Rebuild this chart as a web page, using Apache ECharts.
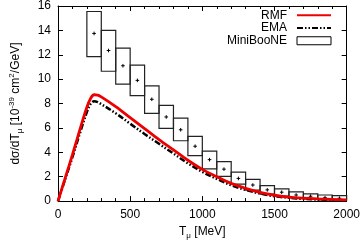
<!DOCTYPE html>
<html><head><meta charset="utf-8">
<script src="https://cdn.jsdelivr.net/npm/echarts@6/dist/echarts.min.js"></script>
<style>html,body{margin:0;padding:0;background:#fff}#c{width:363px;height:245px}</style>
</head><body><div id="c"></div>
<script>
// T_mu grid (MeV) for theory curves
var tGrid = [0,50,100,150,200,225,250,275,300,400,500,600,700,800,900,1000,1100,1200,1300,1400,1500,1600,1700,1800,1900,2000];
var rmfVals = [0,1.9,3.8,5.8,7.7,8.4,8.72,8.7,8.55,7.75,6.85,5.95,5.05,4.2,3.35,2.6,2.0,1.45,1.05,0.72,0.48,0.33,0.24,0.18,0.14,0.1];
var emaVals = [0,1.8,3.6,5.5,7.3,7.95,8.18,8.12,7.95,7.2,6.35,5.5,4.7,3.9,3.1,2.4,1.82,1.3,0.92,0.62,0.4,0.27,0.18,0.13,0.1,0.07];
// MiniBooNE bins
var binLo = [200,300,400,500,600,700,800,900,1000,1100,1200,1300,1400,1500,1600,1700,1800,1900];
var binHi = [300,400,500,600,700,800,900,1000,1100,1200,1300,1400,1500,1600,1700,1800,1900,2000];
var mbCenter = [13.75,12.35,11.1,9.9,8.35,6.9,5.85,4.5,3.4,2.62,1.86,1.32,0.92,0.73,0.5,0.4,0.28,0.24];
var mbLow =    [11.85,10.65,9.6,8.65,7.2,5.97,4.95,3.73,2.65,2.03,1.4,0.9,0.57,0.42,0.28,0.18,0.1,0.07];
var mbHigh =   [15.55,14.0,12.55,11.15,9.45,7.85,6.8,5.3,4.1,3.24,2.38,1.78,1.27,1.0,0.75,0.6,0.5,0.45];
var xTicks = [0,500,1000,1500,2000];
var yTicks = [0,2,4,6,8,10,12,14,16];

var FONT = 'Liberation Sans, Arial, sans-serif';
function pairs(xs, ys){ return xs.map(function(x,i){return [x, ys[i]];}); }
var boxData = binLo.map(function(l,i){ return [l, binHi[i], mbLow[i], mbHigh[i], mbCenter[i]]; });

var chart = echarts.init(document.getElementById('c'));
var axCommon = {
  type:'value',
  axisLine:{show:true,onZero:false,lineStyle:{color:'#000',width:1}},
  splitLine:{show:false}
};
var hidden = {color:'transparent',borderColor:'transparent',borderWidth:0};
chart.setOption({
  animation:false,
  textStyle:{fontFamily:FONT},
  grid:{left:54,right:15,top:6,bottom:42,containLabel:false},
  legend:{
    orient:'vertical', right:31, top:9, align:'right',
    itemWidth:34, itemHeight:8, itemGap:0, padding:0,
    textStyle:{fontSize:12,color:'#000',fontFamily:FONT,lineHeight:12.7,padding:[0,5,0,0]},
    data:[
      {name:'RMF', itemStyle:hidden},
      {name:'EMA', itemStyle:hidden},
      {name:'MiniBooNE', icon:'rect', itemStyle:{color:'#fff',borderColor:'#000',borderWidth:1}}
    ]
  },
  xAxis:[
    Object.assign({}, axCommon, {
      min:0,max:2000,interval:500,position:'bottom',
      axisTick:{show:true,inside:true,length:5,lineStyle:{color:'#000'}},
      minorTick:{show:true,splitNumber:5,length:3,lineStyle:{color:'#000'}},
      axisLabel:{color:'#000',fontSize:12,margin:8,fontFamily:FONT,formatter:function(v){return String(v);}},
      name:'{a|T}{s|μ}{a| [MeV]}', nameLocation:'middle', nameGap:22,
      nameTextStyle:{rich:{
        a:{fontSize:12,color:'#000',fontFamily:FONT,lineHeight:16},
        s:{fontSize:8,color:'#000',fontFamily:FONT,verticalAlign:'bottom',lineHeight:12,padding:[6,0,0,0]}
      }}
    }),
    Object.assign({}, axCommon, {
      min:0,max:2000,interval:500,position:'top',
      axisTick:{show:true,inside:true,length:5,lineStyle:{color:'#000'}},
      minorTick:{show:true,splitNumber:5,length:3,lineStyle:{color:'#000'}},
      axisLabel:{show:false}
    })
  ],
  yAxis:[
    Object.assign({}, axCommon, {
      min:0,max:16,interval:2,position:'left',
      axisTick:{show:true,inside:true,length:5,lineStyle:{color:'#000'}},
      axisLabel:{color:'#000',fontSize:12,margin:7,fontFamily:FONT},
      name:'{a|dσ/dT}{s|μ}{a| [10}{p|-39}{a| cm}{p|2}{a|/GeV]}', nameLocation:'middle', nameGap:34, nameRotate:90,
      nameTextStyle:{rich:{
        a:{fontSize:12,color:'#000',fontFamily:FONT,lineHeight:16},
        s:{fontSize:8,color:'#000',fontFamily:FONT,verticalAlign:'bottom',lineHeight:12,padding:[6,0,0,0]},
        p:{fontSize:8,color:'#000',fontFamily:FONT,verticalAlign:'top',lineHeight:12,padding:[0,0,6,0]}
      }}
    }),
    Object.assign({}, axCommon, {
      min:0,max:16,interval:2,position:'right',
      axisTick:{show:true,inside:true,length:5,lineStyle:{color:'#000'}},
      axisLabel:{show:false}
    })
  ],
  series:[
    {
      name:'MiniBooNE', type:'custom', xAxisIndex:0, yAxisIndex:0,
      data:boxData,
      encode:{x:[0,1],y:[2,3,4]},
      renderItem:function(params, api){
        var p1 = api.coord([api.value(0), api.value(3)]);
        var p2 = api.coord([api.value(1), api.value(2)]);
        var pc = api.coord([(api.value(0)+api.value(1))/2, api.value(4)]);
        var st = {fill:'none',stroke:'#222',lineWidth:1.2};
        return {type:'group',children:[
          {type:'rect',shape:{x:p1[0],y:p1[1],width:p2[0]-p1[0],height:p2[1]-p1[1]},style:st},
          {type:'line',shape:{x1:pc[0]-1.8,y1:pc[1],x2:pc[0]+1.8,y2:pc[1]},style:{stroke:'#000',lineWidth:1}},
          {type:'line',shape:{x1:pc[0],y1:pc[1]-1.8,x2:pc[0],y2:pc[1]+1.8},style:{stroke:'#000',lineWidth:1}}
        ]};
      },
      z:2
    },
    {
      name:'EMA', type:'line', data:pairs(tGrid, emaVals), smooth:0.35, symbol:'none',
      lineStyle:{color:'#000',width:2.5,type:[6,2,1.5,2,1.5,2]}, itemStyle:{color:'#000'}, z:3
    },
    {
      name:'RMF', type:'line', data:pairs(tGrid, rmfVals), smooth:0.35, symbol:'none',
      lineStyle:{color:'#ee0000',width:2.8}, itemStyle:{color:'#ee0000'}, z:4
    }
  ]
});
</script></body></html>
